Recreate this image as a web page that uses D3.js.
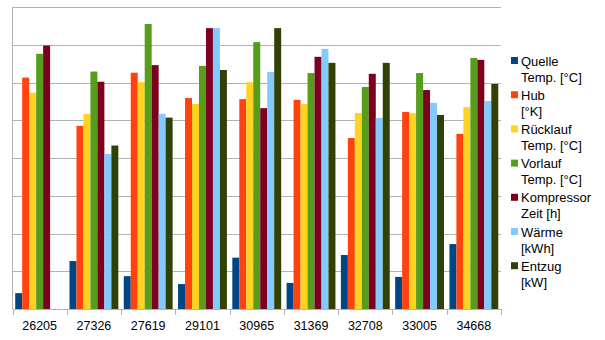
<!DOCTYPE html>
<html><head><meta charset="utf-8">
<script src="https://cdn.jsdelivr.net/npm/d3@7"></script>
<style>body{margin:0;background:#fff}svg{display:block}</style>
</head><body>
<svg id="c" width="605" height="340"></svg>
<script>
const categories = ["26205","27326","27619","29101","30965","31369","32708","33005","34668"];
const seriesNames = [["Quelle","Temp. [°C]"],["Hub","[°K]"],["Rücklauf","Temp. [°C]"],["Vorlauf","Temp. [°C]"],["Kompressor","Zeit [h]"],["Wärme","[kWh]"],["Entzug","[kW]"]];
const colors = ["#004586","#ff420e","#ffd320","#579d1c","#7e0021","#83caff","#314004"];
const quelle     = [0.42,1.27,0.87,0.66,1.36,0.69,1.43,0.85,1.72];
const hub        = [6.13,4.85,6.26,5.59,5.56,5.54,4.53,5.22,4.64];
const ruecklauf  = [5.73,5.17,6.01,5.43,6.01,5.43,5.19,5.19,5.35];
const vorlauf    = [6.76,6.29,7.55,6.44,7.07,6.25,5.88,6.25,6.65];
const kompressor = [6.98,6.02,6.46,7.44,5.32,6.68,6.23,5.80,6.60];
const waerme     = [0,4.11,5.17,7.44,6.28,6.89,5.06,5.46,5.51];
const entzug     = [0,4.33,5.07,6.33,7.44,6.52,6.52,5.14,5.96];
const series = [quelle,hub,ruecklauf,vorlauf,kompressor,waerme,entzug];
const yTicks = [0,1,2,3,4,5,6,7,8];

const svg = d3.select("#c");
const L=12.5, R=501, T=7, B=309;
const x = d3.scaleBand().domain(categories).range([L,R]).paddingInner(0.1).paddingOuter(0.05);
const xs = d3.scaleBand().domain(d3.range(series.length)).range([0,x.bandwidth()]);
const y = d3.scaleLinear().domain([0,8]).range([B,T]);

svg.append("g").selectAll("line").data(yTicks.slice(1)).join("line")
  .attr("x1",L).attr("x2",R).attr("y1",d=>Math.round(y(d))+0.5).attr("y2",d=>Math.round(y(d))+0.5)
  .attr("stroke","#b3b3b3").attr("stroke-width",1);

const g = svg.append("g");
series.forEach((s,i)=>{
  g.append("g").selectAll("rect").data(s).join("rect")
    .attr("x",(d,j)=>x(categories[j])+xs(i))
    .attr("width",xs.bandwidth())
    .attr("y",d=>y(d)).attr("height",d=>B-y(d))
    .attr("fill",colors[i]);
});

// axes
svg.append("line").attr("x1",L).attr("x2",L).attr("y1",T).attr("y2",B).attr("stroke","#b3b3b3");
svg.append("line").attr("x1",L).attr("x2",R).attr("y1",B+0.5).attr("y2",B+0.5).attr("stroke","#b3b3b3");
const step = x.step();
svg.append("g").selectAll("line").data(d3.range(categories.length+1)).join("line")
  .attr("x1",d=>Math.round(L+d*step)+0.5).attr("x2",d=>Math.round(L+d*step)+0.5)
  .attr("y1",B).attr("y2",B+6).attr("stroke","#b3b3b3");
svg.append("g").selectAll("text").data(categories).join("text")
  .attr("x",d=>x(d)+x.bandwidth()/2).attr("y",330)
  .attr("text-anchor","middle").attr("font-family","Liberation Sans, Arial, sans-serif")
  .attr("font-size",12.5).attr("fill","#000").text(d=>d);

// legend
const lg = svg.append("g").attr("font-family","Liberation Sans, Arial, sans-serif").attr("font-size",13).attr("fill","#000");
seriesNames.forEach((n,i)=>{
  const yy = 61 + i*34.2;
  lg.append("rect").attr("x",511).attr("y",yy-4).attr("width",7).attr("height",7).attr("fill",colors[i]);
  lg.append("text").attr("x",521).attr("y",yy+4.5).text(n[0]);
  lg.append("text").attr("x",521).attr("y",yy+20.5).text(n[1]);
});
</script>
</body></html>
